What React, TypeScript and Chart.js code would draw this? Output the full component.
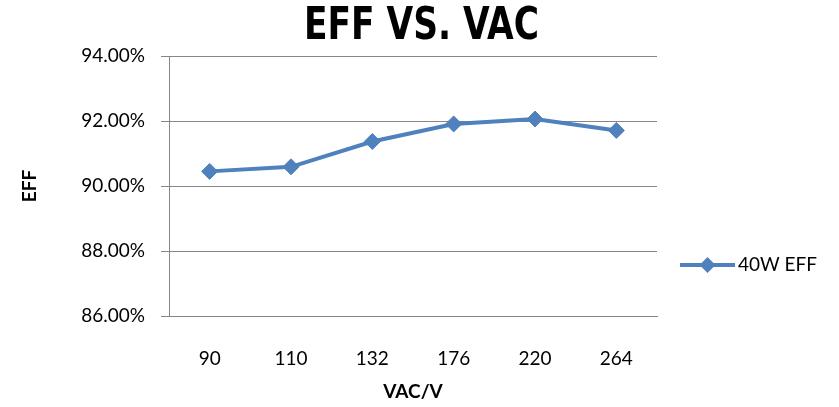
import React, { useEffect, useRef } from "react";
import { Chart, registerables } from "chart.js";

Chart.register(...registerables);

const categories = ["90", "110", "132", "176", "220", "264"];
const eff40W = [90.45, 90.59, 91.37, 91.91, 92.06, 91.71];
const seriesLabel = "40W EFF";
const chartTitle = "EFF VS. VAC";
const xTitle = "VAC/V";
const yTitle = "EFF";
const yMin = 86;
const yMax = 94;
const yStep = 2;

const BLUE = "#4F81BD";
const GRID = "#868686";
const FONT = "Lato, 'Open Sans', sans-serif";
const TITLE_FONT = "bold 44px 'DejaVu Sans Condensed', 'DejaVu Sans', sans-serif";

const titlePlugin = {
  id: "customTitle",
  afterDraw(chart: any) {
    const { ctx, width } = chart;
    ctx.save();
    ctx.font = TITLE_FONT;
    ctx.fillStyle = "#000";
    ctx.textAlign = "center";
    ctx.textBaseline = "middle";
    ctx.translate(width / 2 + 2, 28);
    ctx.scale(0.87, 1);
    ctx.fillText(chartTitle, 0, 0);
    ctx.restore();
  },
};

const legendPlugin = {
  id: "customLegend",
  afterDraw(chart: any) {
    const { ctx, chartArea } = chart;
    const x0 = chartArea.right + 23;
    const x1 = x0 + 55;
    const y = chartArea.top + 209;
    ctx.save();
    ctx.strokeStyle = BLUE;
    ctx.lineWidth = 4;
    ctx.beginPath();
    ctx.moveTo(x0, y);
    ctx.lineTo(x1, y);
    ctx.stroke();
    const cx = (x0 + x1) / 2;
    const r = 8;
    ctx.fillStyle = BLUE;
    ctx.beginPath();
    ctx.moveTo(cx, y - r);
    ctx.lineTo(cx + r, y);
    ctx.lineTo(cx, y + r);
    ctx.lineTo(cx - r, y);
    ctx.closePath();
    ctx.fill();
    ctx.fillStyle = "#000";
    ctx.font = `19px ${FONT}`;
    ctx.textAlign = "left";
    ctx.textBaseline = "middle";
    ctx.fillText(seriesLabel, x1 + 3, y);
    ctx.restore();
  },
};

export default function App() {
  const ref = useRef<HTMLCanvasElement | null>(null);
  useEffect(() => {
    document.body.style.margin = "0";
    const chart = new Chart(ref.current as HTMLCanvasElement, {
      type: "line",
      data: {
        labels: categories,
        datasets: [
          {
            label: seriesLabel,
            data: eff40W,
            borderColor: BLUE,
            backgroundColor: BLUE,
            borderWidth: 4,
            pointStyle: "rectRot",
            pointRadius: 8,
            pointBorderWidth: 1,
            pointBackgroundColor: BLUE,
            pointBorderColor: BLUE,
            tension: 0,
          },
        ],
      },
      options: {
        animation: false,
        responsive: false,
        maintainAspectRatio: false,
        layout: { padding: { left: 0, right: 182, top: 56, bottom: 0 } },
        plugins: {
          legend: { display: false },
          tooltip: { enabled: false },
          title: { display: false },
        },
        scales: {
          x: {
            offset: true,
            grid: { display: true, drawOnChartArea: false, drawTicks: false, color: GRID },
            border: { display: true, color: GRID, width: 1 },
            ticks: { color: "#000", font: { family: FONT, size: 19 }, padding: 31 },
            title: {
              display: true,
              text: xTitle,
              color: "#000",
              font: { family: FONT, size: 19, weight: "bold", lineHeight: 1.2 },
              padding: { top: 2, bottom: 4 },
            },
            afterFit(scale: any) {
              scale.height = 91;
            },
          },
          y: {
            min: yMin,
            max: yMax,
            ticks: {
              stepSize: yStep,
              color: "#000",
              font: { family: FONT, size: 19 },
              padding: 16,
              callback: (v: any) => Number(v).toFixed(2) + "%",
            },
            grid: { color: GRID, lineWidth: 1, tickLength: 8, drawTicks: true },
            border: { display: true, color: GRID, width: 1 },
            title: {
              display: true,
              text: yTitle,
              color: "#000",
              font: { family: FONT, size: 19, weight: "bold", lineHeight: 1.2 },
              padding: { top: 18, bottom: 0 },
            },
            afterFit(scale: any) {
              scale.width = 169;
            },
          },
        },
      },
      plugins: [titlePlugin, legendPlugin],
    });
    return () => chart.destroy();
  }, []);
  return (
    <div style={{ position: "fixed", left: 0, top: 0, width: 839, height: 407, background: "#fff" }}>
      <canvas ref={ref} width={839} height={407} style={{ width: 839, height: 407, display: "block" }} />
    </div>
  );
}
